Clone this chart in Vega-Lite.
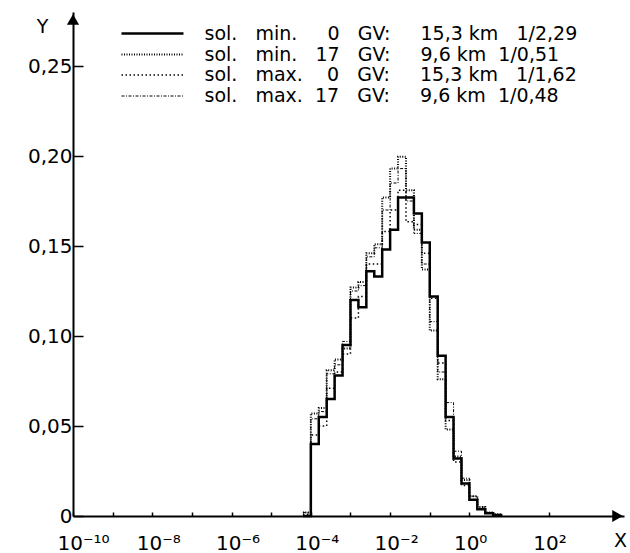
{
  "$schema": "https://vega.github.io/schema/vega-lite/v6.json",
  "width": 551,
  "height": 504,
  "autosize": {"type": "none"},
  "padding": {"left": 73, "top": 12, "right": 6, "bottom": 37},
  "background": "white",
  "config": {
    "view": {"stroke": null},
    "font": "DejaVu Sans",
    "axis": {"grid": false, "domainColor": "black", "domainWidth": 2, "tickColor": "black", "tickWidth": 1.5, "labelColor": "black", "labelFont": "DejaVu Sans", "labelFontSize": 20, "titleFont": "DejaVu Sans", "titleFontSize": 19, "titleFontWeight": "normal", "titleColor": "black", "labelOverlap": false, "labelFlush": false}
  },
  "datasets": {
    "hist": [
      {"x": 6.31e-5, "a": 0, "b": 0.002, "c": 0.001, "d": 0.002},
      {"x": 1e-4, "a": 0.040, "b": 0.057, "c": 0.045, "d": 0.054},
      {"x": 1.585e-4, "a": 0.055, "b": 0.060, "c": 0.050, "d": 0.058},
      {"x": 2.512e-4, "a": 0.065, "b": 0.081, "c": 0.071, "d": 0.079},
      {"x": 3.981e-4, "a": 0.078, "b": 0.087, "c": 0.080, "d": 0.084},
      {"x": 6.31e-4, "a": 0.095, "b": 0.093, "c": 0.090, "d": 0.097},
      {"x": 1e-3, "a": 0.120, "b": 0.127, "c": 0.110, "d": 0.125},
      {"x": 1.585e-3, "a": 0.116, "b": 0.130, "c": 0.122, "d": 0.128},
      {"x": 2.512e-3, "a": 0.136, "b": 0.146, "c": 0.140, "d": 0.144},
      {"x": 3.981e-3, "a": 0.133, "b": 0.151, "c": 0.140, "d": 0.149},
      {"x": 6.31e-3, "a": 0.148, "b": 0.177, "c": 0.158, "d": 0.170},
      {"x": 1e-2, "a": 0.159, "b": 0.193, "c": 0.170, "d": 0.185},
      {"x": 1.585e-2, "a": 0.177, "b": 0.1996, "c": 0.181, "d": 0.193},
      {"x": 2.512e-2, "a": 0.177, "b": 0.181, "c": 0.1635, "d": 0.175},
      {"x": 3.981e-2, "a": 0.168, "b": 0.159, "c": 0.162, "d": 0.157},
      {"x": 6.31e-2, "a": 0.152, "b": 0.137, "c": 0.146, "d": 0.140},
      {"x": 0.1, "a": 0.122, "b": 0.103, "c": 0.121, "d": 0.108},
      {"x": 0.1585, "a": 0.089, "b": 0.076, "c": 0.085, "d": 0.080},
      {"x": 0.2512, "a": 0.055, "b": 0.048, "c": 0.053, "d": 0.063},
      {"x": 0.3981, "a": 0.032, "b": 0.033, "c": 0.030, "d": 0.036},
      {"x": 0.631, "a": 0.018, "b": 0.020, "c": 0.017, "d": 0.021},
      {"x": 1, "a": 0.009, "b": 0.011, "c": 0.009, "d": 0.011},
      {"x": 1.585, "a": 0.0037, "b": 0.005, "c": 0.004, "d": 0.005},
      {"x": 2.512, "a": 0.0015, "b": 0.002, "c": 0.0015, "d": 0.002},
      {"x": 3.981, "a": 0.0006, "b": 0.001, "c": 0.0006, "d": 0.0008},
      {"x": 6.31, "a": 0, "b": 0, "c": 0, "d": 0}
    ],
    "arrowY": [{"x": 1e-10, "value": 0.2758}],
    "arrowX": [{"x": 5460, "value": 0}]
  },
  "layer": [
    {
      "data": {"name": "hist"},
      "transform": [{"fold": ["a", "b", "c", "d"], "as": ["series", "value"]}],
      "mark": {"type": "line", "interpolate": "step-after", "color": "black"},
      "encoding": {
        "x": {
          "field": "x", "type": "quantitative",
          "scale": {"type": "log", "domain": [1e-10, 7943], "nice": false},
          "axis": {
            "values": [1e-10, 1e-9, 1e-8, 1e-7, 1e-6, 1e-5, 1e-4, 1e-3, 1e-2, 1e-1, 1, 100],
            "labelExpr": "(round(log(datum.value)/LN10) % 2 != 0) ? '' : '10' + replace(replace(replace(replace(replace(replace(replace(toString(round(log(datum.value)/LN10)), '-', '⁻'), '1', '¹'), '0', '⁰'), '2', '²'), '4', '⁴'), '6', '⁶'), '8', '⁸')",
            "tickSize": -4,
            "labelAlign": "left",
            "labelOffset": -16,
            "labelBaseline": "alphabetic",
            "labelPadding": 37,
            "title": "X",
            "titleX": 547,
            "titleY": 24,
            "titleAngle": 0,
            "titleAlign": "center",
            "titleBaseline": "middle"
          }
        },
        "y": {
          "field": "value", "type": "quantitative",
          "scale": {"domain": [0, 0.28], "nice": false},
          "axis": {
            "values": [0, 0.05, 0.1, 0.15, 0.2, 0.25],
            "labelExpr": "datum.value == 0 ? '0' : replace(format(datum.value, '.2f'), '.', ',')",
            "tickSize": -10,
            "labelPadding": 11,
            "labelBaseline": "middle",
            "title": "Y",
            "titleX": -31,
            "titleY": 14,
            "titleAngle": 0,
            "titleAlign": "center",
            "titleBaseline": "middle"
          }
        },
        "strokeDash": {
          "field": "series", "type": "nominal",
          "scale": {"domain": ["a", "b", "c", "d"], "range": [[1, 0], [1, 1.5], [1.5, 2.5], [3, 1.5, 1, 1.5]]},
          "legend": {
            "orient": "none", "legendX": 68.5, "legendY": 10.5, "title": null,
            "symbolType": "M-3.18,0H3.18", "symbolSize": 380, "symbolStrokeColor": "black",
            "labelFont": "DejaVu Sans", "labelFontSize": 19, "labelColor": "black", "labelLimit": 700,
            "labelOffset": 41, "rowPadding": 0, "padding": 0,
            "labelExpr": "datum.value == 'a' ? 'sol.\u00a0\u00a0\u00a0min.\u00a0\u00a0\u00a0\u00a0\u00a00\u00a0\u00a0\u00a0GV:\u00a0\u00a0\u00a0\u00a0\u00a015,3\u00a0km\u00a0\u00a0\u00a01/2,29' : datum.value == 'b' ? 'sol.\u00a0\u00a0\u00a0min.\u00a0\u00a0\u00a017\u00a0\u00a0\u00a0GV:\u00a0\u00a0\u00a0\u00a0\u00a09,6\u00a0km\u00a0\u00a01/0,51' : datum.value == 'c' ? 'sol.\u00a0\u00a0\u00a0max.\u00a0\u00a0\u00a0\u00a00\u00a0\u00a0\u00a0GV:\u00a0\u00a0\u00a0\u00a0\u00a015,3\u00a0km\u00a0\u00a0\u00a01/1,62' : 'sol.\u00a0\u00a0\u00a0max.\u00a0\u00a017\u00a0\u00a0\u00a0GV:\u00a0\u00a0\u00a0\u00a0\u00a09,6\u00a0km\u00a0\u00a01/0,48'"
          }
        },
        "strokeWidth": {
          "field": "series", "type": "nominal",
          "scale": {"domain": ["a", "b", "c", "d"], "range": [2.5, 1, 1, 1]},
          "legend": {
            "orient": "none", "legendX": 68.5, "legendY": 10.5, "title": null,
            "symbolType": "M-3.18,0H3.18", "symbolSize": 380, "symbolStrokeColor": "black",
            "labelFont": "DejaVu Sans", "labelFontSize": 19, "labelColor": "black", "labelLimit": 700,
            "labelOffset": 41, "rowPadding": 0, "padding": 0,
            "labelExpr": "datum.value == 'a' ? 'sol.\u00a0\u00a0\u00a0min.\u00a0\u00a0\u00a0\u00a0\u00a00\u00a0\u00a0\u00a0GV:\u00a0\u00a0\u00a0\u00a0\u00a015,3\u00a0km\u00a0\u00a0\u00a01/2,29' : datum.value == 'b' ? 'sol.\u00a0\u00a0\u00a0min.\u00a0\u00a0\u00a017\u00a0\u00a0\u00a0GV:\u00a0\u00a0\u00a0\u00a0\u00a09,6\u00a0km\u00a0\u00a01/0,51' : datum.value == 'c' ? 'sol.\u00a0\u00a0\u00a0max.\u00a0\u00a0\u00a0\u00a00\u00a0\u00a0\u00a0GV:\u00a0\u00a0\u00a0\u00a0\u00a015,3\u00a0km\u00a0\u00a0\u00a01/1,62' : 'sol.\u00a0\u00a0\u00a0max.\u00a0\u00a017\u00a0\u00a0\u00a0GV:\u00a0\u00a0\u00a0\u00a0\u00a09,6\u00a0km\u00a0\u00a01/0,48'"
          }
        }
      }
    },
    {
      "data": {"name": "arrowY"},
      "mark": {"type": "point", "shape": "triangle-up", "filled": true, "color": "black", "size": 150, "opacity": 1},
      "encoding": {
        "x": {"field": "x", "type": "quantitative", "scale": {"type": "log", "domain": [1e-10, 7943], "nice": false}},
        "y": {"field": "value", "type": "quantitative", "scale": {"domain": [0, 0.28], "nice": false}}
      }
    },
    {
      "data": {"name": "arrowX"},
      "mark": {"type": "point", "shape": "triangle-right", "filled": true, "color": "black", "size": 150, "opacity": 1},
      "encoding": {
        "x": {"field": "x", "type": "quantitative", "scale": {"type": "log", "domain": [1e-10, 7943], "nice": false}},
        "y": {"field": "value", "type": "quantitative", "scale": {"domain": [0, 0.28], "nice": false}}
      }
    }
  ]
}
